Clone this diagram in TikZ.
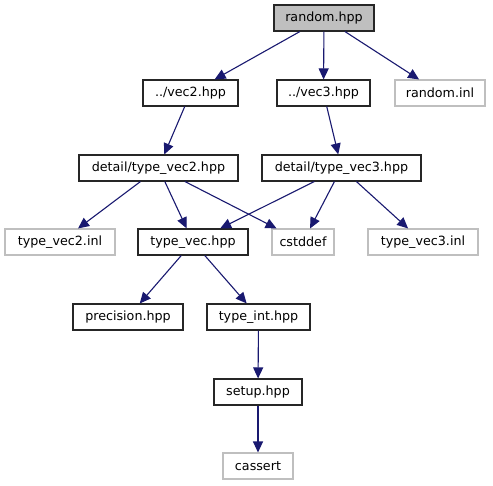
\documentclass[tikz,border=0pt]{standalone}
\usepackage{fontspec}
\setmainfont{DejaVu Sans}
\usetikzlibrary{arrows.meta}
\definecolor{edgec}{HTML}{191970}
\definecolor{grayb}{HTML}{BFBFBF}
\definecolor{fillg}{HTML}{BFBFBF}
\begin{document}
\begin{tikzpicture}[x=1pt,y=-1pt,
  box/.style={draw=black!85, line width=1.1pt, fill=white, minimum height=26pt, inner sep=0pt, font=\fontsize{12.7}{14}\selectfont, text=black},
  ghost/.style={box, draw=grayb},
  edge/.style={draw=edgec, line width=1.1pt, -{Triangle[length=11pt,width=10pt]}}]
\useasboundingbox[fill=white] (0,0) rectangle (493,485);
\node[box, fill=fillg, minimum width=100pt] (random) at (324,18) {random.hpp};
\node[box, minimum width=95pt] (vec2) at (190.5,93) {../vec2.hpp};
\node[box, minimum width=93pt] (vec3) at (323.5,93) {../vec3.hpp};
\node[ghost, minimum width=90pt] (rinl) at (440,93) {random.inl};
\node[box, minimum width=159pt] (dtv2) at (158.5,168) {detail/type\_vec2.hpp};
\node[box, minimum width=159pt] (dtv3) at (341.5,168) {detail/type\_vec3.hpp};
\node[ghost, minimum width=110pt] (tv2inl) at (60,242) {type\_vec2.inl};
\node[box, minimum width=110pt] (tvhpp) at (193,242) {type\_vec.hpp};
\node[ghost, minimum width=62pt] (cstddef) at (303,242) {cstddef};
\node[ghost, minimum width=110pt] (tv3inl) at (423,242) {type\_vec3.inl};
\node[box, minimum width=110pt] (prec) at (128,317) {precision.hpp};
\node[box, minimum width=103pt] (tint) at (258.5,317) {type\_int.hpp};
\node[box, minimum width=88pt] (setup) at (258,392) {setup.hpp};
\node[ghost, minimum width=70pt] (cassert) at (258,466) {cassert};
\draw[edge] (random) -- (vec2);
\draw[edge] (random) -- (vec3);
\draw[edge] (random) -- (rinl);
\draw[edge] (vec2) -- (dtv2);
\draw[edge] (vec3) -- (dtv3);
\draw[edge] (dtv2) -- (tv2inl);
\draw[edge] (dtv2) -- (tvhpp);
\draw[edge] (dtv2) -- (cstddef);
\draw[edge] (dtv3) -- (tvhpp);
\draw[edge] (dtv3) -- (cstddef);
\draw[edge] (dtv3) -- (tv3inl);
\draw[edge] (tvhpp) -- (prec);
\draw[edge] (tvhpp) -- (tint);
\draw[edge] (tint) -- (setup);
\draw[edge] (setup) -- (cassert);
\end{tikzpicture}
\end{document}
